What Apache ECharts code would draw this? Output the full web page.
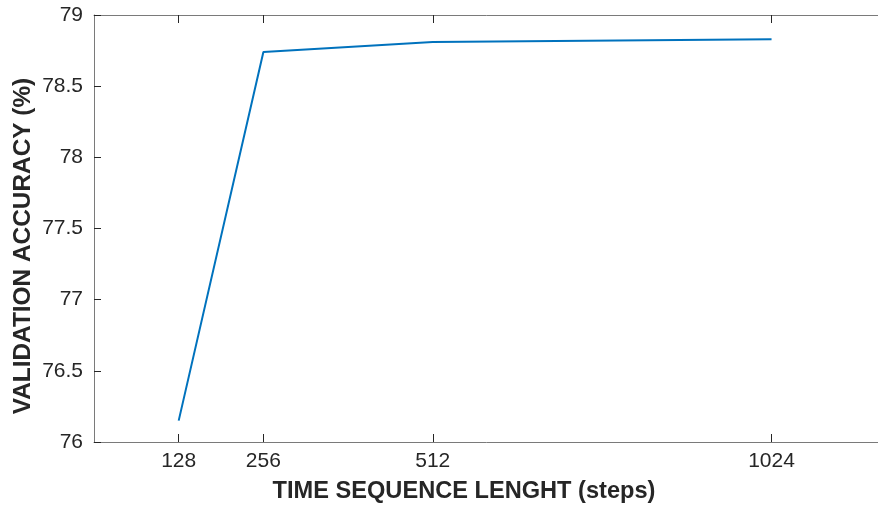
<!DOCTYPE html>
<html>
<head>
<meta charset="utf-8">
<script src="https://cdn.jsdelivr.net/npm/echarts@6/dist/echarts.min.js"></script>
<style>
  html, body { margin: 0; padding: 0; background: #fff; }
  #e { width: 878px; height: 506px; }
</style>
</head>
<body>
<div id="e"></div>
<script>
// sequence lengths and accuracy
var seqLen = [128, 256, 512, 1024];
var accuracy = [76.15, 78.74, 78.81, 78.83];
var xTicks = [128, 256, 512, 1024];

var font = "'Liberation Sans', Arial, Helvetica, sans-serif";
var lineCol = "#7a7a7a";
var tickCol = "#262626";

var myChart = echarts.init(document.getElementById("e"));
var option = {
  backgroundColor: "#fff",
  animation: false,
  grid: {
    left: 94,
    top: 15,
    bottom: 64,
    right: -10,
    containLabel: false,
    outerBoundsMode: "none",
  },
  xAxis: [
    {
      type: "value",
      min: 0,
      max: 1200,
      position: "bottom",
      axisLine: { show: true, lineStyle: { color: lineCol, width: 1 } },
      axisTick: {
        show: true,
        inside: true,
        length: 8,
        customValues: xTicks,
        lineStyle: { color: tickCol },
      },
      axisLabel: {
        customValues: xTicks,
        formatter: function (v) {
          return String(v);
        },
        color: tickCol,
        fontSize: 21,
        fontFamily: font,
        margin: 9,
      },
      splitLine: { show: false },
    },
    {
      type: "value",
      min: 0,
      max: 1200,
      position: "top",
      axisLine: { show: true, lineStyle: { color: lineCol, width: 1 } },
      axisTick: {
        show: true,
        inside: true,
        length: 8,
        customValues: xTicks,
        lineStyle: { color: tickCol },
      },
      axisLabel: { show: false },
      splitLine: { show: false },
    },
  ],
  yAxis: {
    type: "value",
    min: 76,
    max: 79,
    interval: 0.5,
    axisLine: { show: true, lineStyle: { color: lineCol, width: 1 } },
    axisTick: { show: true, inside: true, length: 7, lineStyle: { color: tickCol } },
    axisLabel: { color: tickCol, fontSize: 21, fontFamily: font, margin: 11 },
    splitLine: { show: false },
  },
  graphic: [
    {
      type: "text",
      x: 464,
      y: 491,
      style: {
        text: "TIME SEQUENCE LENGHT (steps)",
        fill: tickCol,
        font: "bold 23.6px " + font,
        textAlign: "center",
        textVerticalAlign: "middle",
      },
    },
    {
      type: "text",
      x: 23,
      y: 246,
      rotation: Math.PI / 2,
      style: {
        text: "VALIDATION ACCURACY (%)",
        fill: tickCol,
        font: "bold 24.4px " + font,
        textAlign: "center",
        textVerticalAlign: "middle",
      },
    },
  ],
  series: [
    {
      type: "line",
      data: seqLen.map(function (v, i) {
        return [v, accuracy[i]];
      }),
      showSymbol: false,
      lineStyle: { color: "#0072BD", width: 2 },
      itemStyle: { color: "#0072BD" },
    },
  ],
};
myChart.setOption(option);
</script>
</body>
</html>
